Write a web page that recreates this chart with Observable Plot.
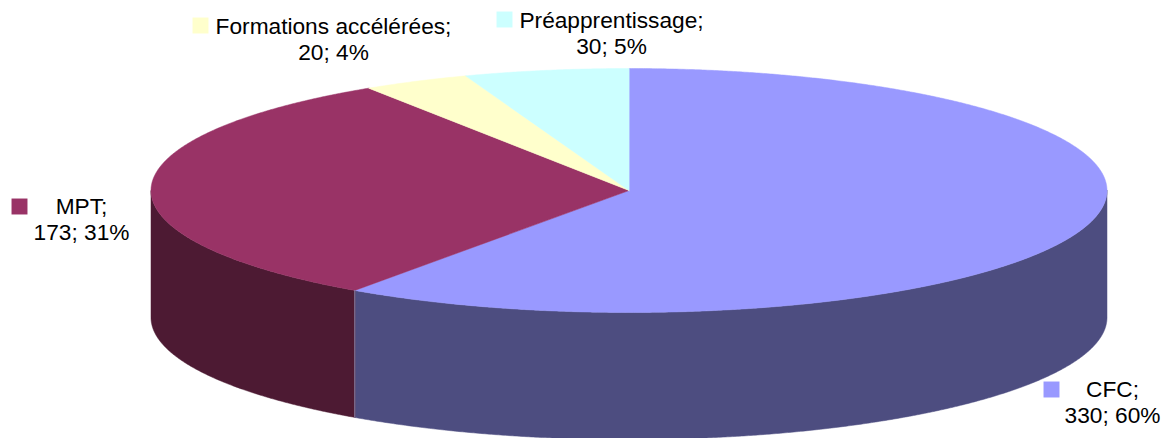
<!DOCTYPE html>
<html>
<head>
<meta charset="utf-8">
<script src="https://cdn.jsdelivr.net/npm/d3@7"></script>
<script src="https://cdn.jsdelivr.net/npm/@observablehq/plot@0.6"></script>
<style>html,body{margin:0;padding:0;background:#fff;overflow:hidden}svg{display:block}</style>
</head>
<body>
<div id="chart"></div>
<script>
const categories = ["CFC", "MPT", "Formations accélérées", "Préapprentissage"];
const values = [330, 173, 20, 30];
const percents = ["60%", "31%", "4%", "5%"];
const topColors = ["#9999FF", "#993366", "#FFFFCC", "#CCFFFF"];
const sideColors = ["#4D4D80", "#4D1A33", "#80806A", "#6A8080"];
const labelCenterX = [1112, 81, 333, 611];
const labelBaseY = [396, 213, 33, 27];
const keyX = [1051, 19, 200, 504];
const keyY = [389, 206, 25, 19];

const cx = 628.5, cy = 190, rx = 478, ry = 122, depth = 127;
const total = d3.sum(values);
const rad = Math.PI / 180;
const px = (a, drop = 0) => [cx + rx * Math.sin(a), cy - ry * Math.cos(a) + drop];
const arc = (a0, a1, drop) => {
  const n = Math.max(2, Math.ceil(Math.abs(a1 - a0) / 0.005));
  return d3.range(n + 1).map(i => px(a0 + (a1 - a0) * i / n, drop));
};

let cum = 0, start = 0;
const points = [];
const seams = [];
categories.forEach((name, i) => {
  cum += values[i];
  // slice boundaries fall on whole degrees
  const end = Math.round(cum / total * 360) * rad;
  const w0 = Math.max(start, Math.PI / 2), w1 = Math.min(end, 3 * Math.PI / 2);
  if (w1 > w0) {
    const wall = [...arc(w0, w1, 0), ...arc(w1, w0, depth)];
    wall.forEach(([x, y]) => points.push({key: name + " side", order: 0, fill: sideColors[i], x, y}));
  }
  const face = [[cx, cy], ...arc(start, end, 0)];
  face.forEach(([x, y]) => points.push({key: name + " top", order: 1, fill: topColors[i], x, y}));
  if (i === 0) seams.push(px(end, 0), px(end, depth));
  start = end;
});

const labels = [];
categories.forEach((name, i) => {
  labels.push({text: name + ";", x: labelCenterX[i], y: labelBaseY[i]});
  labels.push({text: values[i] + "; " + percents[i], x: labelCenterX[i], y: labelBaseY[i] + 26});
});
const keys = categories.map((name, i) => ({x: keyX[i], y: keyY[i], fill: topColors[i]}));

const chart = Plot.plot({
  width: 1169,
  height: 438,
  margin: 0,
  style: {background: "#fff", fontFamily: "'Liberation Sans', Arial, sans-serif"},
  x: {domain: [0, 1169], range: [0, 1169], axis: null},
  y: {domain: [0, 438], range: [0, 438], axis: null},
  marks: [
    Plot.line(points.filter(d => d.order === 0), {x: "x", y: "y", z: "key", fill: "fill", stroke: "fill", strokeWidth: 0.5, curve: "linear-closed"}),
    Plot.line(points.filter(d => d.order === 1), {x: "x", y: "y", z: "key", fill: "fill", stroke: "fill", strokeWidth: 0.5, curve: "linear-closed"}),
    Plot.line(seams, {x: d => d[0], y: d => d[1], stroke: "#8A85A8", strokeWidth: 1}),
    Plot.dot(keys, {x: "x", y: "y", fill: "fill", symbol: "square", r: 9, stroke: "none"}),
    Plot.text(labels, {x: "x", y: "y", text: "text", fontSize: 22.7, fill: "#000", textAnchor: "middle", lineAnchor: "bottom"})
  ]
});
document.getElementById("chart").append(chart);
</script>
</body>
</html>
